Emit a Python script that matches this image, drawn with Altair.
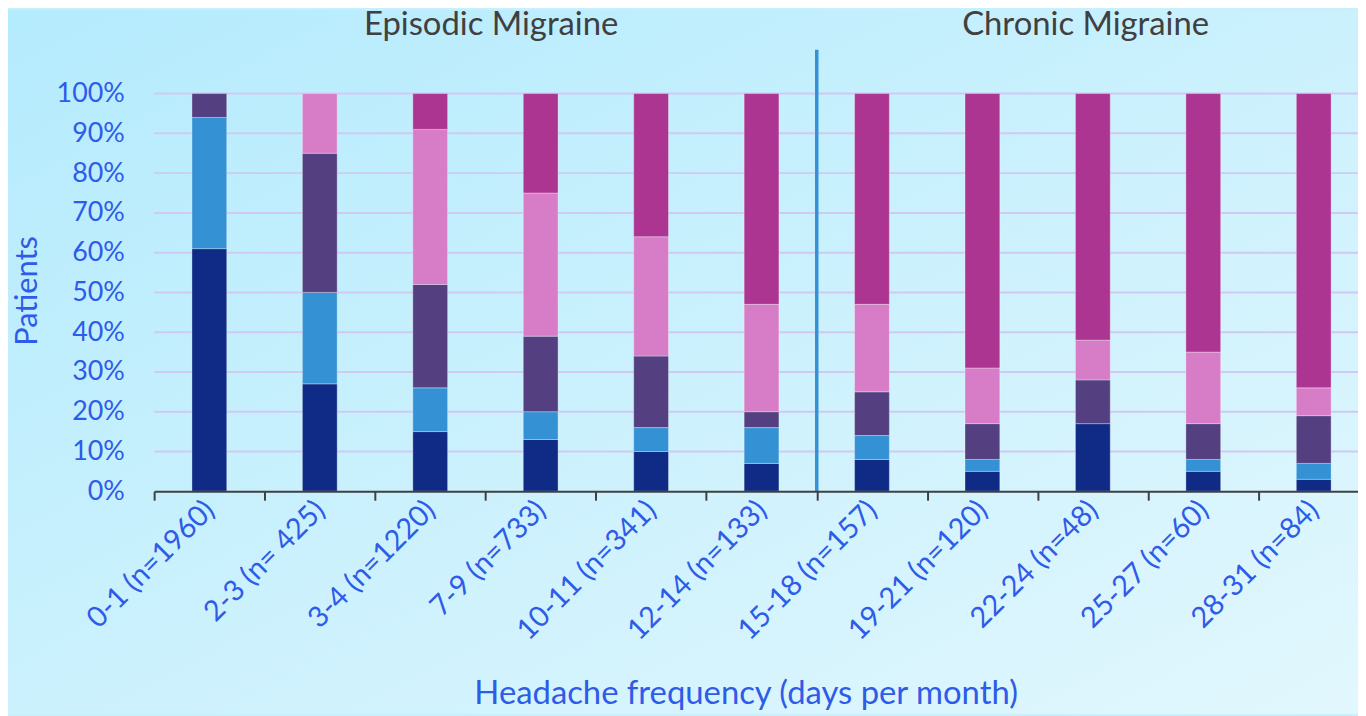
import altair as alt
import pandas as pd

categories = ["0-1 (n=1960)", "2-3 (n= 425)", "3-4 (n=1220)", "7-9 (n=733)",
              "10-11 (n=341)", "12-14 (n=133)", "15-18 (n=157)", "19-21 (n=120)",
              "22-24 (n=48)", "25-27 (n=60)", "28-31 (n=84)"]
series = ["Group 1", "Group 2", "Group 3", "Group 4", "Group 5"]
navy = [61, 27, 15, 13, 10, 7, 8, 5, 17, 5, 3]
blue = [33, 23, 11, 7, 6, 9, 6, 3, 0, 3, 4]
purple = [6, 35, 26, 19, 18, 4, 11, 9, 11, 9, 12]
pink = [0, 15, 39, 36, 30, 27, 22, 14, 10, 18, 7]
magenta = [0, 0, 9, 25, 36, 53, 53, 69, 62, 65, 74]
colors = ["#0f2b85", "#3491d3", "#544081", "#d77cc6", "#ad3592"]
y_ticks = [0, 10, 20, 30, 40, 50, 60, 70, 80, 90, 100]
grid_vals = [10, 20, 30, 40, 50, 60, 70, 80, 90, 100]
groups = ["Episodic Migraine", "Chronic Migraine"]
divider_at = ["15-18 (n=157)"]

rows = []
for si, (name, vals) in enumerate(zip(series, [navy, blue, purple, pink, magenta])):
    for c, v in zip(categories, vals):
        rows.append({"category": c, "series": name, "order": si, "value": v})
df = pd.DataFrame(rows)

FONT = "Lato"
TXT = "#2e5be8"
XTITLE = "Headache frequency (days per month)"
W, H = 1211, 400
PL, PT, PB = 147, 84, 224

x_scale = alt.Scale(domain=categories, paddingInner=0, paddingOuter=0, range=[0, 1222])
y_scale = alt.Scale(domain=[0, 100])
x_axis = alt.Axis(title=XTITLE, labelAngle=-45, labelBaseline="middle",
                  labelFont=FONT, labelFontSize=29, labelColor=TXT, labelPadding=5,
                  labelOverlap=False, labelLimit=500,
                  tickBand="extent", tickSize=9, tickColor="#404040", tickWidth=2,
                  domainColor="#404040", domainWidth=2, grid=False,
                  titleFont=FONT, titleFontSize=33, titleColor=TXT, titleFontWeight="normal",
                  titleX=595, titleY=214, titleBaseline="alphabetic", titleAlign="center",
                  zindex=1)
y_axis = alt.Axis(values=y_ticks, labelExpr="datum.value + '%'", labelFont=FONT,
                  labelFontSize=27, labelColor=TXT, domain=False, ticks=False,
                  tickSize=0, labelPadding=30, grid=False, labelOverlap=False,
                  title="Patients", titleFont=FONT, titleFontSize=31, titleColor=TXT,
                  titleFontWeight="normal", titleX=-127, titleY=198,
                  titleAlign="center", titleBaseline="middle", zindex=1)

bg = alt.Chart(pd.DataFrame({"a": [0]})).mark_rect(
    color=alt.Gradient(
        gradient="linear",
        stops=[alt.GradientStop(color="#b4ebfd", offset=0),
               alt.GradientStop(color="#e2f7fd", offset=1)],
        x1=0, y1=0, x2=1, y2=1,
    )
).encode(x=alt.value(-PL), x2=alt.value(W), y=alt.value(-PT), y2=alt.value(H + PB))

grid = alt.Chart(pd.DataFrame({"value": grid_vals})).mark_rule(
    color="#cfc9f3", strokeWidth=2
).encode(
    y=alt.Y("value:Q", scale=y_scale, axis=y_axis, title="Patients"),
    x=alt.value(0), x2=alt.value(1222),
)

bars = alt.Chart(df).transform_filter("datum.value > 0").mark_bar(
    width=alt.RelativeBandSize(0.315), stroke="#ffffff", strokeWidth=0.8, strokeOpacity=0.4
).encode(
    x=alt.X("category:N", scale=x_scale, sort=categories, axis=x_axis, title=XTITLE),
    y=alt.Y("value:Q", stack="zero", scale=y_scale, axis=y_axis, title="Patients"),
    color=alt.Color("series:N", scale=alt.Scale(domain=series, range=colors), legend=None),
    order=alt.Order("order:Q", sort="ascending"),
)

divider = alt.Chart(pd.DataFrame({"category": divider_at})).mark_rule(
    color="#3391d4", strokeWidth=3.5
).encode(
    x=alt.X("category:N", bandPosition=0, scale=x_scale, sort=categories, axis=x_axis, title=XTITLE),
    y=alt.value(-44), y2=alt.value(H),
)

t1 = alt.Chart(pd.DataFrame({"t": [groups[0]]})).mark_text(
    font=FONT, fontSize=33, color="#404040", align="center", baseline="middle"
).encode(text="t:N", x=alt.value(339), y=alt.value(-69))
t2 = alt.Chart(pd.DataFrame({"t": [groups[1]]})).mark_text(
    font=FONT, fontSize=33, color="#404040", align="center", baseline="middle"
).encode(text="t:N", x=alt.value(937), y=alt.value(-69))

chart = alt.layer(bg, grid, bars, divider, t1, t2).properties(
    width=W, height=H,
    padding={"left": PL, "top": PT, "right": 0, "bottom": PB},
    autosize=alt.AutoSizeParams(type="none"),
    background="#c8f0fc",
).configure_view(stroke=None)

chart.save("out.html", embed_options={"renderer": "svg", "actions": False})
